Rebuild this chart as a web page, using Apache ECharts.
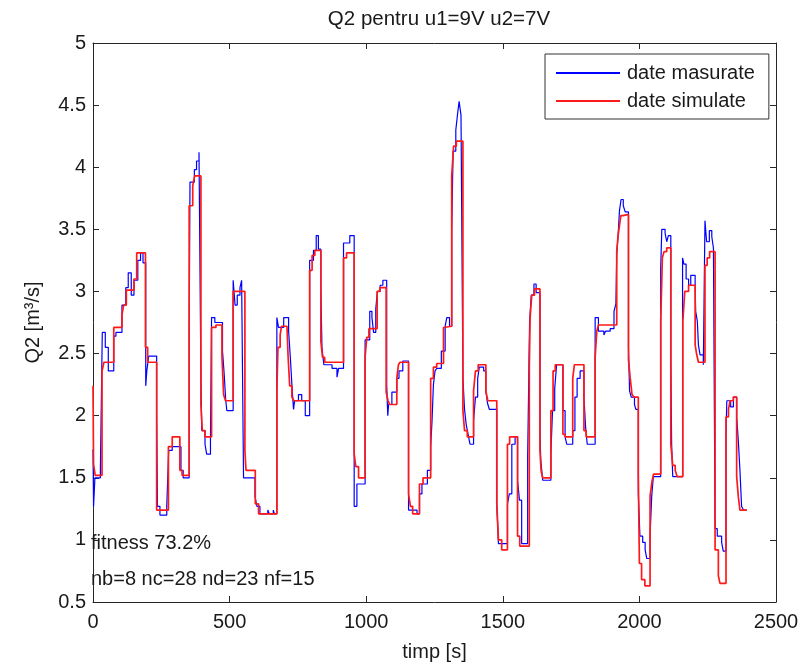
<!DOCTYPE html>
<html>
<head>
<meta charset="utf-8">
<script src="https://cdn.jsdelivr.net/npm/echarts@6/dist/echarts.min.js"></script>
<style>html,body{margin:0;padding:0;background:#fff}#c{width:811px;height:667px}</style>
</head>
<body>
<div id="c"></div>
<script>
// measured data (blue), step breakpoints: time [s], Q2 [m3/s]
var tMeas = [0,2,7,27,34,45,56,76,84,106,120,129,140,150,164,174,183,193,197,204,233,236,245,270,277,290,322,330,352,355,371,379,388,395,398,410,416,430,434,446,474,480,486,490,513,520,528,538,544,551,593,600,611,640,645,660,664,673,679,698,716,722,728,734,738,752,764,777,793,807,817,825,834,838,845,875,893,899,917,940,956,966,996,1013,1021,1027,1035,1041,1051,1061,1075,1079,1082,1094,1112,1120,1134,1155,1186,1195,1204,1224,1236,1241,1246,1252,1258,1275,1289,1295,1305,1313,1318,1328,1334,1340,1347,1354,1360,1366,1373,1380,1393,1400,1408,1414,1430,1438,1444,1451,1478,1484,1517,1524,1533,1545,1554,1561,1569,1591,1598,1604,1614,1622,1636,1639,1646,1676,1682,1690,1697,1720,1728,1734,1756,1764,1772,1783,1797,1803,1809,1838,1850,1870,1876,1893,1907,1914,1917,1922,1927,1933,1941,1948,1960,1964,1970,1982,1987,1996,2002,2012,2021,2027,2039,2045,2051,2078,2082,2094,2100,2106,2115,2118,2122,2158,2163,2171,2180,2188,2204,2206,2212,2216,2222,2234,2240,2246,2256,2265,2271,2277,2285,2301,2307,2317,2320,2334,2344,2356,2362,2368,2374,2381,2393];
var qMeas = [1.73,1.27,1.5,1.56,2.67,2.55,2.36,2.64,2.67,2.89,3.03,3.15,2.97,3.09,3.25,3.31,3.23,2.24,2.36,2.48,2.01,1.27,1.2,1.27,1.72,1.75,1.56,1.5,2.67,3.88,3.98,4.05,4.12,2.3,1.88,1.77,1.69,1.83,2.79,2.75,2.52,2.34,2.12,2.04,3.09,2.89,2.97,3.03,3.09,1.5,1.35,1.27,1.21,1.24,1.21,1.24,1.21,2.79,2.71,2.79,2.68,2.48,2.25,2.05,2.12,2.17,2.12,2.0,3.25,3.33,3.45,3.34,3.03,2.55,2.41,2.38,2.31,2.38,3.39,3.45,1.27,1.45,2.61,2.84,2.79,2.67,2.86,3.0,3.05,3.09,2.25,2.0,2.09,2.19,2.3,2.36,2.44,1.24,1.21,1.37,1.45,1.56,1.75,1.96,2.25,2.36,2.38,2.52,2.72,2.79,2.72,3.48,4.13,4.3,4.42,4.53,4.42,2.3,2.05,1.93,1.85,1.77,1.96,2.15,2.3,2.39,2.36,2.2,2.1,2.05,1.29,0.97,1.29,1.37,1.77,1.83,1.48,1.32,0.97,1.67,2.75,2.97,3.06,2.99,1.85,1.64,1.48,1.7,2.04,2.22,2.41,2.04,1.83,1.77,1.88,2.15,2.3,2.36,2.15,1.91,1.77,2.79,2.68,2.65,2.68,2.7,2.84,2.9,3.3,3.45,3.65,3.74,3.69,3.64,2.55,2.2,2.15,2.09,2.05,1.37,1.03,0.98,0.92,0.85,1.03,1.35,1.51,3.19,3.5,3.47,3.4,3.45,2.44,1.77,1.51,3.27,3.22,3.1,3.05,3.13,3.05,2.84,2.76,2.57,2.49,2.41,3.57,3.4,3.49,3.44,3.35,1.09,1.03,0.98,0.91,1.85,2.12,2.07,2.15,1.99,1.8,1.56,1.27,1.24,1.24];

// simulated data (red)
var tSim = [0,2,8,33,40,76,106,112,122,150,160,192,200,233,276,290,318,326,352,365,372,395,400,410,434,450,472,478,485,513,556,560,594,606,673,677,685,690,710,714,720,728,735,793,802,812,834,840,848,917,928,956,962,972,996,1002,1010,1040,1050,1073,1080,1086,1112,1118,1124,1155,1162,1170,1195,1208,1236,1246,1258,1283,1290,1313,1320,1330,1354,1360,1370,1393,1400,1410,1438,1445,1478,1484,1496,1517,1525,1554,1562,1597,1600,1606,1616,1636,1640,1646,1676,1684,1692,1720,1728,1756,1762,1797,1805,1838,1844,1850,1917,1922,1927,1932,1940,1960,1966,1973,1980,1996,2000,2008,2020,2039,2046,2052,2078,2084,2090,2100,2115,2122,2131,2138,2159,2166,2180,2204,2210,2216,2240,2248,2257,2277,2289,2295,2317,2326,2332,2344,2356,2362,2368,2393];
var qSim = [2.24,1.61,1.52,2.36,2.43,2.71,2.81,2.89,3.01,3.1,3.31,2.55,2.43,1.24,1.75,1.83,1.56,1.52,3.69,3.85,3.93,2.09,1.88,1.83,2.71,2.73,2.48,2.17,2.12,3.0,1.72,1.56,1.29,1.21,2.2,2.55,2.65,2.72,2.72,2.48,2.24,2.15,2.12,3.17,3.29,3.33,2.6,2.47,2.43,3.27,3.31,1.69,1.59,1.5,2.47,2.63,2.7,3.0,3.03,2.19,2.12,2.09,2.3,2.41,2.43,1.37,1.27,1.21,1.45,1.5,2.3,2.39,2.42,2.71,2.72,3.93,4.17,4.21,2.04,1.88,1.83,2.2,2.36,2.41,2.2,2.12,1.29,1.0,0.92,1.77,1.83,1.03,0.95,2.39,2.79,2.97,3.02,1.72,1.56,1.5,2.04,2.36,2.41,1.85,1.83,2.3,2.41,1.88,1.83,2.47,2.68,2.73,3.32,3.45,3.53,3.61,3.62,2.45,2.31,2.17,2.15,1.53,0.81,0.68,0.63,1.35,1.47,1.53,2.76,3.27,3.32,3.35,1.77,1.6,1.56,1.51,2.76,3.0,3.05,2.57,2.49,2.43,3.21,3.27,3.32,0.92,0.71,0.65,1.99,2.05,2.12,2.15,1.51,1.35,1.24,1.24];

var xTicks = [0, 500, 1000, 1500, 2000, 2500];
var yTicks = [0.5, 1, 1.5, 2, 2.5, 3, 3.5, 4, 4.5, 5];
var seriesNames = ['date masurate', 'date simulate'];
var titleText = 'Q2 pentru u1=9V u2=7V';
var xName = 'timp [s]';
var yName = 'Q2 [m\u00b3/s]';
var notes = ['fitness 73.2%', 'nb=8 nc=28 nd=23 nf=15'];

// zero-order hold: value holds until the next sample time
function stepPairs(t, q) {
  var out = [];
  for (var i = 0; i < t.length; i++) {
    if (i > 0) out.push([t[i], q[i - 1]]);
    out.push([t[i], q[i]]);
  }
  return out;
}

var FONT = '"Liberation Sans", Arial, sans-serif';
var TXT = '#1a1a1a';
var chart = echarts.init(document.getElementById('c'), null, {renderer: 'canvas'});

var axisCommon = {
  axisLine: {show: true, onZero: false, lineStyle: {color: '#262626', width: 1}},
  axisTick: {show: true, inside: true, length: 6, lineStyle: {color: '#262626'}},
  splitLine: {show: false}
};

chart.setOption({
  animation: false,
  backgroundColor: '#fff',
  title: {
    text: titleText, left: 434, textAlign: 'center', top: 4,
    textStyle: {fontFamily: FONT, fontSize: 20.5, fontWeight: 'normal', color: TXT}
  },
  grid: {left: 93, right: 35, top: 43, bottom: 61, containLabel: false},
  legend: {
    data: [{name: seriesNames[0], icon: 'rect'}, {name: seriesNames[1], icon: 'rect'}],
    orient: 'vertical', left: 545, top: 54,
    itemWidth: 64, itemHeight: 2, itemGap: 8,
    padding: [9, 14, 8, 11],
    backgroundColor: '#fff', borderColor: '#333', borderWidth: 1,
    textStyle: {fontFamily: FONT, fontSize: 20, color: TXT, padding: [0, 0, 0, 2]}
  },
  xAxis: [
    Object.assign({
      type: 'value', min: 0, max: 2500, interval: 500, position: 'bottom',
      name: xName, nameLocation: 'middle', nameGap: 40,
      nameTextStyle: {fontFamily: FONT, fontSize: 20, color: TXT},
      axisLabel: {fontFamily: FONT, fontSize: 20, color: TXT, margin: 10,
        formatter: function (v) { return xTicks.indexOf(v) >= 0 ? String(v) : ''; }}
    }, axisCommon),
    Object.assign({
      type: 'value', min: 0, max: 2500, interval: 500, position: 'top',
      axisLabel: {show: false}
    }, axisCommon)
  ],
  yAxis: [
    Object.assign({
      type: 'value', min: 0.5, max: 5, interval: 0.5, position: 'left',
      name: yName, nameLocation: 'middle', nameGap: 50,
      nameTextStyle: {fontFamily: FONT, fontSize: 20, color: TXT},
      axisLabel: {fontFamily: FONT, fontSize: 20, color: TXT, margin: 7,
        formatter: function (v) { return yTicks.indexOf(v) >= 0 ? String(v) : ''; }}
    }, axisCommon),
    Object.assign({
      type: 'value', min: 0.5, max: 5, interval: 0.5, position: 'right',
      axisLabel: {show: false}
    }, axisCommon)
  ],
  series: [
    {
      name: seriesNames[0], type: 'line', showSymbol: false, symbol: 'none',
      data: stepPairs(tMeas, qMeas), xAxisIndex: 0, yAxisIndex: 0,
      lineStyle: {color: '#0000ff', width: 1.2}, itemStyle: {color: '#0000ff'}, z: 2
    },
    {
      name: seriesNames[1], type: 'line', showSymbol: false, symbol: 'none',
      data: stepPairs(tSim, qSim), xAxisIndex: 0, yAxisIndex: 0,
      lineStyle: {color: '#ff1a1a', width: 1.7}, itemStyle: {color: '#ff1a1a'}, z: 3
    }
  ],
  graphic: [
    {type: 'text', left: 91, top: 533, z: 10,
      style: {text: notes[0], font: '20px ' + FONT, fill: TXT}},
    {type: 'text', left: 91, top: 569, z: 10,
      style: {text: notes[1], font: '20px ' + FONT, fill: TXT}}
  ]
});
</script>
</body>
</html>
